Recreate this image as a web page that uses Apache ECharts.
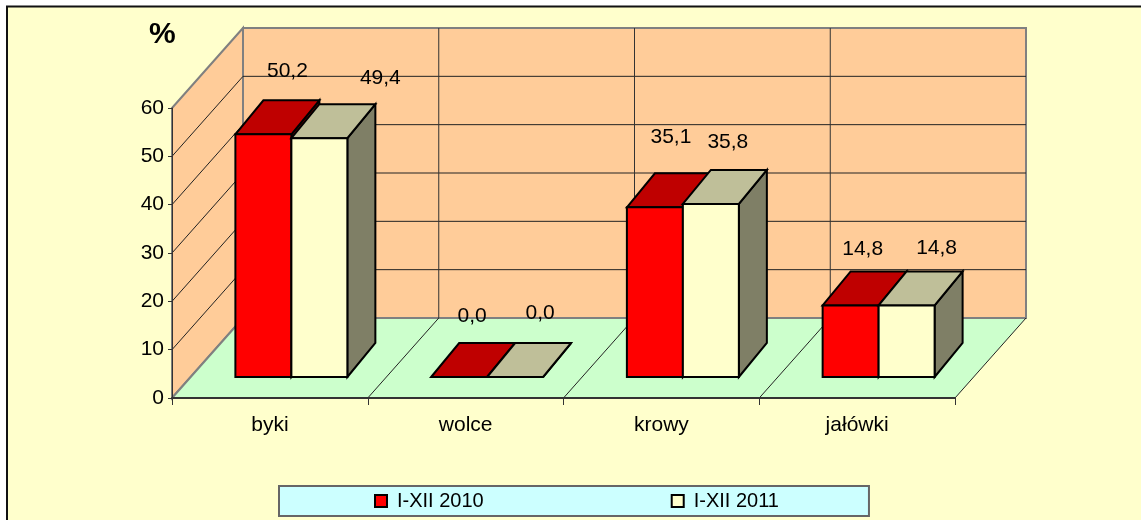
<!DOCTYPE html>
<html>
<head>
<meta charset="utf-8">
<script src="https://cdn.jsdelivr.net/npm/echarts@6/dist/echarts.min.js"></script>
<style>
html, body { margin: 0; padding: 0; background: #fff; }
#main { width: 1141px; height: 520px; }
</style>
</head>
<body>
<div id="main"></div>
<script>
var categories = ['byki', 'wolce', 'krowy', 'jałówki'];
var values2010 = [50.2, 0.0, 35.1, 14.8];
var values2011 = [49.4, 0.0, 35.8, 14.8];
var seriesNames = ['I-XII 2010', 'I-XII 2011'];
var yTicks = [0, 10, 20, 30, 40, 50, 60];

// hand placed data labels in the source, offset from the bar's top front centre
var labelNudge = [
    [[24, -63], [13, -61], [16, -70], [12, -56]],
    [[61, -60], [25, -64], [17, -62], [30, -57]]
];

var wallDepth = [71, -80];
var barDepth = [28, -34];
var barLift = [21.5, -21];
var barShare = 0.286;
var fontName = '"Liberation Sans", Arial, sans-serif';

var barColors = [
    { front: '#ff0000', top: '#bf0000', side: '#7f0000' },
    { front: '#ffffcc', top: '#bfbf99', side: '#7f7f66' }
];

function shift(p, d) {
    return [p[0] + d[0], p[1] + d[1]];
}

function poly(points, fill, stroke, width) {
    return {
        type: 'polygon',
        shape: { points: points },
        style: { fill: fill, stroke: stroke, lineWidth: width }
    };
}

function line(points, color, width) {
    return {
        type: 'polyline',
        shape: { points: points },
        style: { fill: 'none', stroke: color, lineWidth: width }
    };
}

// side wall, back wall, floor and their gridlines
function renderWalls(params, api) {
    var band = api.size([1, 0])[0];
    var n = categories.length;
    var bottomLeft = api.coord([0, 0]);
    bottomLeft[0] -= band / 2;
    var topLeft = [bottomLeft[0], api.coord([0, 60])[1]];
    var bottomRight = [bottomLeft[0] + band * n, bottomLeft[1]];
    var topRight = [bottomRight[0], topLeft[1]];
    var kids = [];

    kids.push(poly([topLeft, shift(topLeft, wallDepth), shift(bottomLeft, wallDepth), bottomLeft], '#ffcc99', '#808080', 2));
    kids.push(poly([shift(topLeft, wallDepth), shift(topRight, wallDepth), shift(bottomRight, wallDepth), shift(bottomLeft, wallDepth)], '#ffcc99', '#808080', 2));
    kids.push(poly([bottomLeft, shift(bottomLeft, wallDepth), shift(bottomRight, wallDepth), bottomRight], '#ccffcc', 'none', 0));
    kids.push(line([bottomLeft, shift(bottomLeft, wallDepth), shift(bottomRight, wallDepth)], '#808080', 2));
    kids.push(line([bottomRight, shift(bottomRight, wallDepth)], '#222', 1));

    yTicks.forEach(function (t) {
        if (t === 0 || t === 60) return;
        var y = api.coord([0, t])[1];
        var a = [bottomLeft[0], y];
        var b = [bottomRight[0], y];
        kids.push(line([a, shift(a, wallDepth), shift(b, wallDepth)], '#222', 1));
    });
    for (var i = 1; i < n; i++) {
        var p = [bottomLeft[0] + band * i, bottomLeft[1]];
        var q = [p[0], topLeft[1]];
        kids.push(line([p, shift(p, wallDepth)], '#222', 1));
        kids.push(line([shift(p, wallDepth), shift(q, wallDepth)], '#333', 1));
    }
    return { type: 'group', children: kids };
}

function makeBarRenderer(which) {
    return function (params, api) {
        var idx = api.value(0);
        var val = api.value(1);
        var band = api.size([1, 0])[0];
        var w = band * barShare;
        var base = shift(api.coord([idx, 0]), barLift);
        var top = shift(api.coord([idx, val]), barLift);
        var left = base[0] + (which === 0 ? -w : 0);
        var right = left + w;
        var bl = [left, base[1]], br = [right, base[1]];
        var tl = [left, top[1]], tr = [right, top[1]];
        var c = barColors[which];
        var nudge = labelNudge[which][params.dataIndex];
        var kids = [
            poly([br, shift(br, barDepth), shift(tr, barDepth), tr], c.side, '#000', 2),
            poly([tl, shift(tl, barDepth), shift(tr, barDepth), tr], c.top, '#000', 2),
            poly([bl, br, tr, tl], c.front, '#000', 2),
            {
                type: 'text',
                x: (left + right) / 2 + nudge[0],
                y: top[1] + nudge[1],
                style: {
                    text: val.toFixed(1).replace('.', ','),
                    fill: '#000',
                    font: '21px ' + fontName,
                    align: 'center',
                    verticalAlign: 'middle'
                }
            }
        ];
        return { type: 'group', children: kids };
    };
}

var chart = echarts.init(document.getElementById('main'));
chart.setOption({
    animation: false,
    textStyle: { fontFamily: fontName },
    graphic: [{
        type: 'rect',
        z: -10,
        silent: true,
        shape: { x: 7, y: 6.5, width: 1140, height: 520 },
        style: { fill: '#ffffcc', stroke: '#111', lineWidth: 2 }
    }],
    title: {
        text: '%',
        left: 149,
        top: 20,
        padding: 0,
        textStyle: { fontSize: 30, fontWeight: 'bold', color: '#000' }
    },
    legend: {
        left: 279,
        top: 486,
        padding: [5, 90, 5, 95],
        itemGap: 187,
        itemWidth: 12,
        itemHeight: 12,
        selectedMode: false,
        backgroundColor: '#ccffff',
        borderColor: '#666',
        borderWidth: 2,
        textStyle: { fontSize: 20, color: '#000', padding: [1, 0, 0, 5] },
        data: [
            { name: seriesNames[0], icon: 'rect', itemStyle: { color: barColors[0].front, borderColor: '#000', borderWidth: 2 } },
            { name: seriesNames[1], icon: 'rect', itemStyle: { color: barColors[1].front, borderColor: '#000', borderWidth: 2 } }
        ]
    },
    grid: { left: 172, top: 108, width: 783, height: 290 },
    xAxis: {
        type: 'category',
        data: categories,
        z: 10,
        axisLine: { lineStyle: { color: '#333', width: 2 } },
        axisTick: { show: true, alignWithLabel: false, length: 7, lineStyle: { color: '#333', width: 1 } },
        axisLabel: { color: '#000', fontSize: 21, margin: 17 }
    },
    yAxis: {
        type: 'value',
        min: 0,
        max: 60,
        interval: 10,
        z: 10,
        splitLine: { show: false },
        axisLine: { show: true, lineStyle: { color: '#333', width: 1 } },
        axisTick: { show: true, length: 4, lineStyle: { color: '#333', width: 1 } },
        axisLabel: { color: '#000', fontSize: 21, margin: 8, padding: [3, 0, 0, 0] }
    },
    series: [
        {
            type: 'custom',
            z: 1,
            silent: true,
            clip: false,
            renderItem: renderWalls,
            encode: { x: 0, y: 1 },
            data: [[0, 0]]
        },
        {
            name: seriesNames[0],
            type: 'custom',
            z: 3,
            clip: false,
            renderItem: makeBarRenderer(0),
            encode: { x: 0, y: 1 },
            itemStyle: { color: barColors[0].front },
            data: values2010.map(function (v, i) { return [i, v]; })
        },
        {
            name: seriesNames[1],
            type: 'custom',
            z: 4,
            clip: false,
            renderItem: makeBarRenderer(1),
            encode: { x: 0, y: 1 },
            itemStyle: { color: barColors[1].front },
            data: values2011.map(function (v, i) { return [i, v]; })
        }
    ]
});
</script>
</body>
</html>
